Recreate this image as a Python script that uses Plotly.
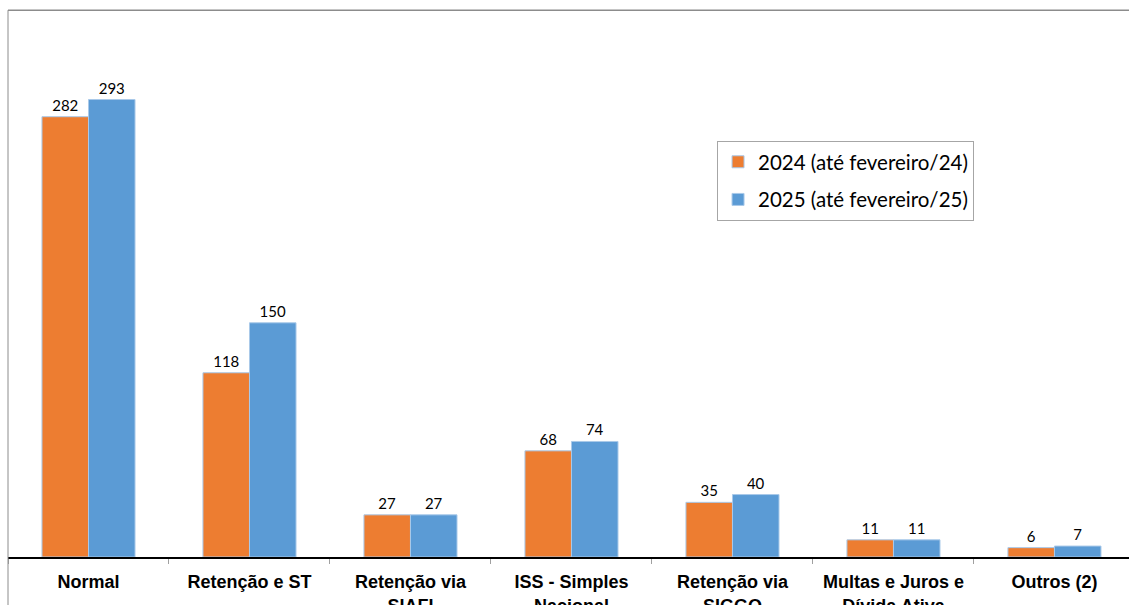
import plotly.graph_objects as go

categories = ["Normal", "Retenção e ST", "Retenção via<br>SIAFI", "ISS - Simples<br>Nacional",
              "Retenção via<br>SIGGO", "Multas e Juros e<br>Dívida Ativa", "Outros (2)"]
serie_2024 = [282, 118, 27, 68, 35, 11, 6]
serie_2025 = [293, 150, 27, 74, 40, 11, 7]
name_2024 = "2024 (até fevereiro/24)"
name_2025 = "2025 (até fevereiro/25)"

label_font = dict(family="Lato, 'Open Sans', sans-serif", size=15, color="#000000")

fig = go.Figure()
fig.add_trace(go.Bar(
    x=categories, y=serie_2024, name=name_2024, legendgroup="a",
    marker=dict(color="#ED7D31", line=dict(color="#A9C9E9", width=1)),
    text=serie_2024, textposition="outside", textfont=label_font, cliponaxis=False,
))
fig.add_trace(go.Bar(
    x=categories, y=serie_2025, name=name_2025, legendgroup="b",
    marker=dict(color="#5B9BD5", line=dict(color="#A9C9E9", width=1)),
    text=serie_2025, textposition="outside", textfont=label_font, cliponaxis=False,
))

fig.update_layout(
    width=1129, height=605,
    margin=dict(l=8, r=0, t=11, b=48),
    paper_bgcolor="white", plot_bgcolor="white",
    barmode="group", bargap=0.422, bargroupgap=0,
    showlegend=True,
    legend=dict(
        x=0.6325, y=0.762, xanchor="left", yanchor="top",
        bordercolor="#A6A6A6", borderwidth=1, bgcolor="white",
        font=dict(family="Lato, 'Open Sans', sans-serif", size=20.5, color="#000000"),
        tracegroupgap=8, traceorder="grouped",
    ),
    xaxis=dict(
        type="category", range=[-0.5, 6.463], automargin=False,
        showline=True, linecolor="#000000", linewidth=1.5,
        ticks="outside", tickson="boundaries", ticklen=5, tickcolor="#A0A0A0", tickwidth=1,
        ticklabelstandoff=8,
        tickfont=dict(family="Liberation Sans, Arial, sans-serif", size=18, color="#000000", weight="bold"),
        showgrid=False, zeroline=False,
    ),
    yaxis=dict(
        range=[0, 349.7], visible=False, showgrid=False, zeroline=False, automargin=False,
    ),
    shapes=[
        dict(type="line", xref="paper", yref="paper", x0=0, x1=1, y0=1.0015, y1=1.0015,
             line=dict(color="#8C8C8C", width=1.5)),
        dict(type="line", xref="paper", yref="paper", x0=0, x1=0, y0=1.0015, y1=-0.1,
             line=dict(color="#8C8C8C", width=1)),
    ],
)

fig.write_html("out.html")
